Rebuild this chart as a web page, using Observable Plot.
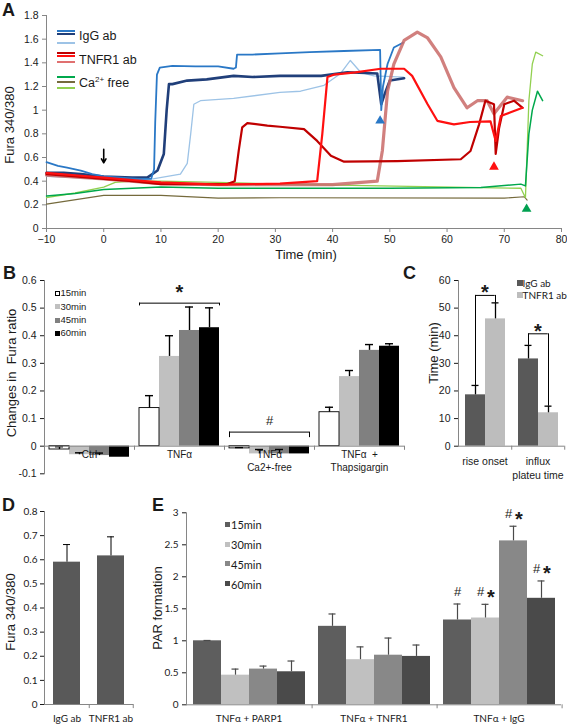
<!DOCTYPE html>
<html>
<head>
<meta charset="utf-8">
<script src="https://cdn.jsdelivr.net/npm/d3@7"></script>
<script src="https://cdn.jsdelivr.net/npm/@observablehq/plot@0.6"></script>
<style>
  html,body{margin:0;padding:0;background:#fff;}
  #fig{position:relative;width:567px;height:726px;overflow:hidden;background:#fff;font-family:"Liberation Sans",Arial,sans-serif;color:#1a1a1a;}
  #fig > *{position:absolute;}
  .letter{font-weight:bold;font-size:18px;line-height:1;}
  .c{transform:translate(-50%,-50%);white-space:pre;line-height:1;}
  .r{transform:translate(-50%,-50%) rotate(-90deg);white-space:pre;line-height:1;font-size:13px;}
  .l{transform:translate(0,-50%);white-space:pre;line-height:1;}
</style>
</head>
<body>
<div id="fig"></div>
<script>
// ---------------- DATA ----------------
// Panel A: time (min) / Fura 340/380 traces, read as [time, ratio] key points
const iggMid = [[-10,0.56],[-8,0.53],[-6.4,0.515],[-4,0.49],[-2,0.46],[0,0.44],[3,0.43],[6,0.42],[8.3,0.42],[8.8,0.5],[9.0,0.9],[9.3,1.3],[9.8,1.36],[12,1.375],[16,1.37],[20,1.37],[22.7,1.35],[23.1,1.36],[23.3,1.47],[26,1.47],[30.8,1.48],[36,1.49],[42,1.50],[48.3,1.51],[48.5,1.0],[48.8,1.2],[49.6,1.39],[50.7,1.53],[52.3,1.57]];
const iggNavy = [[-10,0.47],[-7,0.47],[-4,0.46],[0,0.44],[5,0.43],[7.6,0.43],[9.4,0.49],[10.5,0.63],[11.0,1.0],[11.4,1.22],[12,1.22],[14.6,1.25],[18,1.26],[22.7,1.29],[26,1.28],[30.8,1.29],[34.4,1.29],[38,1.29],[42.6,1.32],[47.8,1.31],[48.5,1.05],[49.2,1.15],[50,1.25],[52.5,1.27]];
const iggLight = [[-10,0.44],[0,0.42],[5,0.41],[8.6,0.42],[13.4,0.46],[14.6,0.55],[15.2,0.8],[15.75,1.05],[16.9,1.08],[22.7,1.10],[30.8,1.15],[34.4,1.16],[38.5,1.21],[41.4,1.31],[43.1,1.42],[44.9,1.32],[47.2,1.29],[52.4,1.28]];
const tnfDark = [[-10,0.46],[-5,0.44],[0,0.42],[5,0.40],[10,0.375],[21.6,0.375],[22.9,0.40],[23.6,0.66],[24.2,0.855],[25.1,0.89],[28.6,0.87],[30.8,0.86],[35,0.84],[37.3,0.74],[39.7,0.615],[42,0.565],[51.3,0.57],[62.4,0.585],[64.1,0.655],[65.6,0.88],[66.7,1.08],[68.2,1.05],[68.5,0.63],[69.1,0.85],[70,1.05],[71.7,1.08],[73.2,1.02]];
const tnfBright = [[-10,0.47],[-5,0.45],[0,0.43],[5,0.41],[10,0.39],[20,0.37],[30.8,0.38],[37.3,0.40],[38.2,0.80],[39.1,1.28],[40.2,1.30],[44,1.32],[48.4,1.35],[52.5,1.35],[53.9,1.29],[56.6,1.05],[58.3,0.91],[61.2,0.88],[64,0.90],[67.6,0.905],[68.5,0.74],[69.4,0.95],[71,0.98],[73.2,1.02]];
const tnfLight = [[-10,0.45],[0,0.42],[10,0.38],[20,0.37],[30,0.37],[40,0.37],[47.8,0.40],[48.7,0.66],[49.6,1.16],[50.7,1.39],[52.5,1.59],[54.8,1.66],[56.6,1.61],[58.9,1.45],[61.2,1.19],[63.5,1.02],[65.3,1.08],[67,1.08],[68.2,0.97],[70.5,1.11],[73.2,1.08]];
const caGreen = [[-10,0.275],[-5,0.296],[0,0.33],[5,0.34],[10,0.35],[20,0.34],[30.8,0.34],[50,0.34],[65.9,0.347],[72.9,0.375],[73.7,0.36],[74.3,0.8],[74.9,1.0],[75.8,1.16],[76.7,1.08]];
const caLight = [[-10,0.26],[-5,0.30],[0,0.35],[2,0.39],[5,0.40],[10,0.40],[20,0.39],[30.8,0.375],[48.4,0.36],[72.9,0.34],[73.7,0.26],[74.3,1.08],[74.9,1.39],[75.5,1.49],[76.7,1.46]];
const caOlive = [[-10,0.206],[0,0.28],[10,0.28],[20,0.257],[30.8,0.26],[70,0.257],[73.5,0.268],[74,0.24]];
const trianglesA = [{k:"IgG", t:48.3, v:0.91},{k:"TNFR1", t:68.2, v:0.52},{k:"Ca", t:73.9, v:0.165}];
const arrowA = [{t:0, from:0.67, to:0.555}];
const xTicksA = [-10,0,10,20,30,40,50,60,70,80];
const yTicksA = [0,0.2,0.4,0.6,0.8,1,1.2,1.4,1.6,1.8];

// Panel B: changes in Fura ratio
const groupsB = ["Ctrl","TNFα","TNFα Ca2+-free","TNFα + Thapsigargin"];
const groupLabelsB = ["Ctrl","TNFα","TNFα\nCa2+-free","TNFα  +\nThapsigargin"];
const timesB = ["15min","30min","45min","60min"];
const meansB = [[-0.012,-0.031,-0.034,-0.040],[0.138,0.325,0.419,0.429],[-0.008,-0.028,-0.028,-0.028],[0.123,0.252,0.347,0.362]];
const errsB  = [[0.010,0.007,0.009,0],[0.045,0.075,0.085,0.072],[0.003,0.016,0.016,0],[0.018,0.022,0.021,0.009]];
const bracketsB = [{group:"TNFα", from:"15min", to:"60min", y:0.518, tip:0.508, mark:"*"},{group:"TNFα Ca2+-free", from:"15min", to:"60min", y:0.051, tip:0.031, mark:"#"}];
const yTicksB = [-0.1,0,0.1,0.2,0.3,0.4,0.5,0.6];

// Panel C: time (min)
const groupsC = ["rise onset","influx"];
const groupLabelsC = ["rise onset","influx\nplateu time"];
const abC = ["IgG ab","TNFR1 ab"];
const meansC = [[18.6,46.1],[31.6,12.1]];
const errsC  = [[3.4,5.8],[4.9,2.4]];
const bracketsC = [{group:"rise onset", y:54.6, leftTip:22.0, rightTip:51.9},{group:"influx", y:40.7, leftTip:36.5, rightTip:14.5}];
const yTicksC = [0,10,20,30,40,50,60];

// Panel D: Fura 340/380
const groupsD = ["IgG ab","TNFR1 ab"];
const meansD = [0.590,0.616];
const errsD  = [0.073,0.079];
const yTicksD = [0,0.1,0.2,0.3,0.4,0.5,0.6,0.7,0.8];

// Panel E: PAR formation
const groupsE = ["TNFα + PARP1","TNFα + TNFR1","TNFα + IgG"];
const timesE = ["15min","30min","45min","60min"];
const meansE = [[1.00,0.463,0.558,0.516],[1.226,0.705,0.775,0.756],[1.325,1.356,2.561,1.664]];
const errsE  = [[0.005,0.095,0.047,0.168],[0.193,0.200,0.268,0.178],[0.250,0.214,0.229,0.271]];
const sigE   = [["","","",""],["","","",""],["#","#*","#*","#*"]];
const yTicksE = [0,0.5,1,1.5,2,2.5,3];

// ---------------- STYLES ----------------
const AX = "#868686";
const styleA = {
  caOlive:{stroke:"#756a3c", w:1.1, o:1},
  caLight:{stroke:"#92d050", w:1.3, o:1},
  caGreen:{stroke:"#00a84c", w:1.5, o:1},
  iggLight:{stroke:"#9dc3e6", w:1.3, o:1},
  iggNavy:{stroke:"#203f7a", w:2.6, o:1},
  iggMid:{stroke:"#2a78c6", w:1.8, o:1},
  tnfLight:{stroke:"#c96a67", w:3.2, o:0.85},
  tnfDark:{stroke:"#c00000", w:2.2, o:1},
  tnfBright:{stroke:"#ff1010", w:2.2, o:1}
};
const tracesA = {caOlive, caLight, caGreen, iggLight, iggNavy, iggMid, tnfLight, tnfDark, tnfBright};
const triColors = ["#2a78c6","#ff1010","#00a050"];
const colorsB = ["#ffffff","#c0c0c0","#808080","#000000"];
const colorsC = ["#595959","#bdbdbd"];
const colorD = "#595959";
const colorsE = ["#5e5e5e","#c0c0c0","#888888","#4a4a4a"];
const ARIAL = "'Liberation Sans', Arial, sans-serif";
const CAL = "Lato, 'Liberation Sans', sans-serif";
const fmt = d => d === 0 ? "0" : String(+d.toFixed(1));
const baseStyle = (font, size) => ({background:"transparent", overflow:"visible", fontFamily:font, fontSize:size, color:"#1a1a1a"});

// ---------------- HELPERS ----------------
const fig = document.getElementById("fig");
function put(node, left, top){ node.style.left = left + "px"; node.style.top = top + "px"; fig.appendChild(node); return node; }
function txt(cls, html, left, top, css = {}){ const d = document.createElement("div"); d.className = cls; d.innerHTML = html; Object.assign(d.style, css); return put(d, left, top); }
function box(left, top, w, h, css){ const d = document.createElement("div"); Object.assign(d.style, {width:w+"px", height:h+"px"}, css); return put(d, left, top); }

// ---------------- PANEL A ----------------
const orderA = ["caOlive","caLight","caGreen","iggLight","iggNavy","iggMid","tnfLight","tnfDark","tnfBright"];
const plotA = Plot.plot({
  width:567, height:256, marginLeft:46, marginRight:6, marginTop:15, marginBottom:28,
  style: baseStyle(ARIAL, "10.5px"),
  x:{domain:[-10,80]}, y:{domain:[0,1.8]},
  color:{domain:trianglesA.map(d=>d.k), range:triColors},
  marks:[
    Plot.ruleY([0], {stroke:AX}),
    Plot.ruleX([-10], {stroke:AX}),
    Plot.axisX({ticks:xTicksA, tickSize:4, tickPadding:3, label:null, stroke:AX}),
    Plot.axisY({ticks:yTicksA, tickSize:4, tickPadding:4, tickFormat:fmt, label:null, stroke:AX}),
    ...orderA.map(k => Plot.line(tracesA[k], {x:d=>d[0], y:d=>d[1], stroke:styleA[k].stroke, strokeWidth:styleA[k].w, strokeOpacity:styleA[k].o, strokeLinejoin:"round"})),
    Plot.dot(trianglesA, {x:"t", y:"v", symbol:"triangle", r:3.6, fill:"k", stroke:"none"}),
    Plot.arrow(arrowA, {x1:"t", y1:"from", x2:"t", y2:"to", stroke:"#000", strokeWidth:1.6, headLength:7})
  ]
});
put(plotA, 0, 0);

// legend A
const legA = [
  {lines:[["#2a78c6",29.8],["#203f7a",32.6],["#9dc3e6",41.8]], label:"IgG ab", y:36},
  {lines:[["#c00000",51.8],["#ff1010",55],["#e07070",61]], label:"TNFR1 ab", y:59.5},
  {lines:[["#00a84c",76],["#756a3c",80.8],["#92d050",86.5]], label:"Ca<sup style='font-size:8px;vertical-align:5px;line-height:0'>2+</sup> free", y:83}
];
legA.forEach(g => { g.lines.forEach(([c,y]) => box(57, y, 18, 2, {background:c})); txt("l", g.label, 79, g.y, {fontSize:"12.5px"}); });
txt("r", "Fura 340/380", 9, 125);
txt("c", "Time (min)", 306, 254, {fontSize:"13px"});
txt("letter", "A", 2, 0.7);

// ---------------- PANEL B ----------------
const rowsB = groupsB.flatMap((g,i) => timesB.map((t,j) => ({group:g, time:t, value:meansB[i][j], err:errsB[i][j]})));
const errRowsB = rowsB.filter(d => d.err > 0);
const stepB = (410-44-6)/groupsB.length/(timesB.length + 0.5);
const plotB = Plot.plot({
  width:410, height:240, marginLeft:44, marginRight:6, marginTop:15, marginBottom:31.7,
  style: baseStyle(ARIAL, "10.5px"),
  fx:{domain:groupsB, padding:0, axis:null},
  x:{domain:timesB, paddingInner:0, paddingOuter:0.25, axis:null},
  y:{domain:[-0.1,0.6], ticks:yTicksB, tickFormat:fmt, tickSize:4, tickPadding:4, label:null},
  color:{domain:timesB, range:colorsB},
  marks:[
    Plot.barY(rowsB, {fx:"group", x:"time", y:"value", fill:"time"}),
    Plot.barY(rowsB.filter(d => d.time === timesB[0]), {fx:"group", x:"time", y:"value", fill:"none", stroke:"#000", strokeWidth:0.9}),
    Plot.ruleX(errRowsB, {fx:"group", x:"time", y1:"value", y2:d=>d.value+d.err, stroke:"#000", strokeWidth:1.4}),
    Plot.ruleY(errRowsB, {fx:"group", x1:"time", x2:"time", y:d=>d.value+d.err, insetLeft:6, insetRight:6, stroke:"#000", strokeWidth:1.4}),
    Plot.ruleY([0], {stroke:AX}),
    Plot.ruleX([0], {x:()=>timesB[3], y1:0, y2:-0.015, dx:stepB*0.75, stroke:AX}),
    Plot.frame({anchor:"left", facetAnchor:"left", stroke:AX}),
    Plot.text(groupsB, {fx:d=>d, text:(d,i)=>groupLabelsB[i], y:0, dy:3, lineAnchor:"top", fontSize:10, lineHeight:1.3}),
    Plot.ruleY(bracketsB, {fx:"group", x1:"from", x2:"to", y:"y", stroke:"#000", strokeWidth:1}),
    Plot.ruleX(bracketsB, {fx:"group", x:"from", y1:"y", y2:"tip", dx:-stepB/2, stroke:"#000", strokeWidth:1}),
    Plot.ruleX(bracketsB, {fx:"group", x:"to", y1:"y", y2:"tip", dx:stepB/2, stroke:"#000", strokeWidth:1}),
    Plot.text(bracketsB.filter(d=>d.mark==="*"), {fx:"group", y:"y", text:"mark", dy:-10.5, fontSize:20, fontWeight:"bold"}),
    Plot.text(bracketsB.filter(d=>d.mark==="#"), {fx:"group", y:"y", text:"mark", dy:-11.7, fontSize:13})
  ]
});
put(plotB, 0, 265);
// legend B
[293.3, 306.7, 320, 333.3].forEach((y,i) => {
  box(55, y-2.5, 5, 5, {background:colorsB[i], border: i===0 ? "1px solid #000" : "none", boxSizing:"border-box"});
  txt("l", timesB[i], 60.5, y, {fontSize:"9.5px"});
});
txt("r", "Changes in  Fura ratio", 11, 373);
txt("letter", "B", 3, 263.7);

// ---------------- PANEL C ----------------
const rowsC = groupsC.flatMap((g,i) => abC.map((a,j) => ({group:g, ab:a, value:meansC[i][j], err:errsC[i][j]})));
const poC = 0.29;
const stepC = (167-58-3)/groupsC.length/(abC.length + 2*poC);
const plotC = Plot.plot({
  width:167, height:215, marginLeft:58, marginRight:3, marginTop:15, marginBottom:34.3,
  style: baseStyle(ARIAL, "10.5px"),
  fx:{domain:groupsC, padding:0, axis:null},
  x:{domain:abC, paddingInner:0, paddingOuter:poC, axis:null},
  y:{domain:[0,60], ticks:yTicksC, tickSize:4, tickPadding:4, label:null},
  color:{domain:abC, range:colorsC},
  marks:[
    Plot.barY(rowsC, {fx:"group", x:"ab", y:"value", fill:"ab"}),
    Plot.ruleX(rowsC, {fx:"group", x:"ab", y1:"value", y2:d=>d.value+d.err, stroke:"#000", strokeWidth:1.3}),
    Plot.ruleY(rowsC, {fx:"group", x1:"ab", x2:"ab", y:d=>d.value+d.err, insetLeft:6.5, insetRight:6.5, stroke:"#000", strokeWidth:1.3}),
    Plot.ruleY([0], {stroke:AX}),
    Plot.ruleX([0], {x:()=>abC[1], y1:0, y2:-1.45, dx:stepC*(0.5+poC), stroke:AX}),
    Plot.frame({anchor:"left", facetAnchor:"left", stroke:AX}),
    Plot.text(groupsC, {fx:d=>d, text:(d,i)=>groupLabelsC[i], y:0, dy:8.5, lineAnchor:"top", fontSize:10.5, lineHeight:1.35}),
    Plot.ruleY(bracketsC, {fx:"group", x1:()=>abC[0], x2:()=>abC[1], y:"y", insetLeft:stepC/2, insetRight:stepC/2, stroke:"#000", strokeWidth:1}),
    Plot.ruleX(bracketsC, {fx:"group", x:()=>abC[0], y1:"y", y2:"leftTip", stroke:"#000", strokeWidth:1}),
    Plot.ruleX(bracketsC, {fx:"group", x:()=>abC[1], y1:"y", y2:"rightTip", stroke:"#000", strokeWidth:1}),
    Plot.text(bracketsC, {fx:"group", y:"y", text:()=>"*", dy:-2.5, fontSize:20, fontWeight:"bold"})
  ]
});
put(plotC, 400, 265);
[[283.3,0],[295,1]].forEach(([y,i]) => {
  box(517, y-3, 6, 6, {background:colorsC[i]});
  txt("l", abC[i], 522.5, y, {fontSize:"10px", fontFamily:CAL});
});
txt("r", "Time (min)", 433, 353);
txt("letter", "C", 403, 263.7);

// ---------------- PANEL D ----------------
const rowsD = groupsD.map((g,i) => ({group:g, value:meansD[i], err:errsD[i]}));
const stepD = (140-44-7)/2;
const plotD = Plot.plot({
  width:140, height:231, marginLeft:44, marginRight:7, marginTop:16, marginBottom:22,
  style: baseStyle(CAL, "10px"),
  x:{domain:groupsD, paddingInner:0.38, paddingOuter:0.19, tickSize:0, tickPadding:10, label:null},
  y:{domain:[0,0.8], ticks:yTicksD, tickFormat:fmt, tickSize:4, tickPadding:3, label:null},
  marks:[
    Plot.barY(rowsD, {x:"group", y:"value", fill:colorD}),
    Plot.ruleX(rowsD, {x:"group", y1:"value", y2:d=>d.value+d.err, stroke:"#000", strokeWidth:1}),
    Plot.ruleY(rowsD, {x1:"group", x2:"group", y:d=>d.value+d.err, insetLeft:10, insetRight:10, stroke:"#000", strokeWidth:1}),
    Plot.ruleY([0], {stroke:AX}),
    Plot.ruleX(groupsD, {x:d=>d, y1:0, y2:-0.017, dx:stepD/2, stroke:AX}),
    Plot.frame({anchor:"left", stroke:AX})
  ]
});
put(plotD, 0, 495);
txt("r", "Fura 340/380", 10, 612);
txt("letter", "D", 2, 495.7);

// ---------------- PANEL E ----------------
const rowsE = groupsE.flatMap((g,i) => timesE.map((t,j) => ({group:g, time:t, value:meansE[i][j], err:errsE[i][j], sig:sigE[i][j]})));
const poE = 0.232;
const stepE = (417-35-5)/groupsE.length/(timesE.length + 2*poE);
const plotE = Plot.plot({
  width:417, height:231, marginLeft:35, marginRight:5, marginTop:17.3, marginBottom:21.7,
  style: baseStyle(CAL, "10px"),
  fx:{domain:groupsE, padding:0, axis:null},
  x:{domain:timesE, paddingInner:0, paddingOuter:poE, axis:null},
  y:{domain:[0,3], ticks:yTicksE, tickFormat:fmt, tickSize:4, tickPadding:4, label:null},
  color:{domain:timesE, range:colorsE},
  marks:[
    Plot.barY(rowsE, {fx:"group", x:"time", y:"value", fill:"time"}),
    Plot.ruleX(rowsE, {fx:"group", x:"time", y1:"value", y2:d=>d.value+d.err, stroke:"#4a4a4a", strokeWidth:1.2}),
    Plot.ruleY(rowsE, {fx:"group", x1:"time", x2:"time", y:d=>d.value+d.err, insetLeft:10.5, insetRight:10.5, stroke:"#4a4a4a", strokeWidth:1.2}),
    Plot.ruleY([0], {stroke:AX}),
    Plot.ruleX([0], {x:()=>timesE[3], y1:0, y2:-0.062, dx:stepE*(0.5+poE), stroke:AX}),
    Plot.frame({anchor:"left", facetAnchor:"left", stroke:AX}),
    Plot.text(groupsE, {fx:d=>d, text:d=>d, y:0, dy:10, lineAnchor:"top", fontSize:10}),
    Plot.text(rowsE.filter(d=>d.sig==="#"), {fx:"group", x:"time", y:d=>d.value+d.err, text:"sig", dy:-12, fontSize:13, fontFamily:ARIAL}),
    Plot.text(rowsE.filter(d=>d.sig==="#*"), {fx:"group", x:"time", y:d=>d.value+d.err, text:()=>"#", dx:-5, dy:-12, fontSize:13, fontFamily:ARIAL}),
    Plot.text(rowsE.filter(d=>d.sig==="#*"), {fx:"group", x:"time", y:d=>d.value+d.err, text:()=>"*", dx:5.5, dy:-7, fontSize:20, fontWeight:"bold", fontFamily:ARIAL})
  ]
});
put(plotE, 150, 495);
[524, 544, 563.5, 583.5].forEach((y,i) => {
  box(225, y-2.5, 5, 5, {background:colorsE[i]});
  txt("l", timesE[i], 231, y, {fontSize:"11px", fontFamily:CAL});
});
txt("r", "PAR formation", 157, 608);
txt("letter", "E", 152, 495.7);
</script>
</body>
</html>
